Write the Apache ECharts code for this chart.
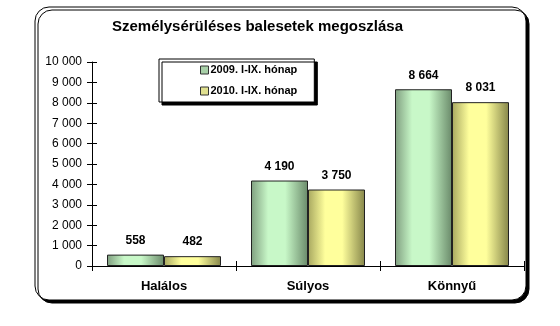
<!DOCTYPE html>
<html><head><meta charset="utf-8">
<script src="https://cdn.jsdelivr.net/npm/echarts@6/dist/echarts.min.js"></script>
<style>html,body{margin:0;padding:0;background:#fff}#c{width:560px;height:326px}</style>
</head><body><div id="c"></div>
<script>
const categories = ['Halálos', 'Súlyos', 'Könnyű'];
const series2009 = [558, 4190, 8664];
const series2010 = [482, 3750, 8031];
const seriesNames = ['2009. I-IX. hónap', '2010. I-IX. hónap'];
const chartTitle = 'Személysérüléses balesetek megoszlása';

const fmt = v => String(v).replace(/\B(?=(\d{3})+(?!\d))/g, ' ');
const FONT = 'Liberation Sans, Arial, sans-serif';

function grad(dark, light, dark2) {
  return new echarts.graphic.LinearGradient(0, 0, 1, 0, [
    {offset: 0, color: dark}, {offset: 0.3, color: light},
    {offset: 0.6, color: light}, {offset: 1, color: dark2}]);
}

const chart = echarts.init(document.getElementById('c'), null, {renderer: 'canvas'});
const labelCfg = {show: true, position: 'top', distance: 8, fontFamily: FONT, fontWeight: 'bold',
  fontSize: 12, color: '#000', formatter: p => fmt(p.value)};
chart.setOption({
  animation: false,
  backgroundColor: '#fff',
  graphic: [{
    type: 'rect', z: -10, shape: {x: 35, y: 7, width: 491, height: 293, r: 14},
    style: {fill: '#fff', stroke: '#000', lineWidth: 1, shadowColor: '#000', shadowOffsetX: 3, shadowOffsetY: 3, shadowBlur: 0.01}
  }],
  title: {text: chartTitle, left: 107, top: 14,
    textStyle: {fontFamily: FONT, fontWeight: 'bold', fontSize: 15, color: '#000'}},
  legend: {
    orient: 'vertical', left: 159, top: 59, itemWidth: 8, itemHeight: 8, itemGap: 7,
    padding: [4, 17, 4, 41], backgroundColor: '#fff', borderColor: '#000', borderWidth: 1,
    shadowColor: '#000', shadowOffsetX: 3, shadowOffsetY: 3, shadowBlur: 0.01,
    icon: 'rect',
    textStyle: {fontFamily: FONT, fontWeight: 'bold', fontSize: 11, color: '#000', lineHeight: 14, padding: [0, 0, 0, -3]},
    data: [
      {name: seriesNames[0], itemStyle: {color: '#a8d0a8', borderColor: '#333', borderWidth: 1}},
      {name: seriesNames[1], itemStyle: {color: '#e0e090', borderColor: '#333', borderWidth: 1}}
    ]
  },
  grid: {left: 92, right: 36, top: 62, bottom: 60},
  xAxis: [{
    type: 'category', data: categories,
    axisLine: {lineStyle: {color: '#000', width: 1}},
    axisTick: {show: true, length: 5, interval: 0, lineStyle: {color: '#000'}},
    axisLabel: {fontFamily: FONT, fontWeight: 'bold', fontSize: 13, color: '#000', margin: 14}
  }, {
    type: 'category', data: categories, position: 'bottom',
    axisLine: {show: false}, axisLabel: {show: false},
    axisTick: {show: true, inside: true, length: 5, interval: 0, lineStyle: {color: '#000'}}
  }],
  yAxis: [{
    type: 'value', min: 0, max: 10000, interval: 1000,
    axisLine: {show: true, lineStyle: {color: '#000'}},
    axisTick: {show: true, length: 5, lineStyle: {color: '#000'}},
    splitLine: {show: false},
    axisLabel: {fontFamily: FONT, fontSize: 12, color: '#000', margin: 10, formatter: v => fmt(v)}
  }, {
    type: 'value', min: 0, max: 10000, interval: 1000, position: 'left',
    axisLine: {show: false}, splitLine: {show: false}, axisLabel: {show: false},
    axisTick: {show: true, inside: true, length: 5, lineStyle: {color: '#000'}}
  }],
  series: [{
    name: seriesNames[0], type: 'bar', data: series2009, barWidth: 57, barGap: '0%',
    itemStyle: {color: grad('#7f9e7f', '#c8f8c8', '#6a8a6a'), borderColor: '#222', borderWidth: 1},
    label: labelCfg
  }, {
    name: seriesNames[1], type: 'bar', data: series2010, barWidth: 57, barGap: '0%',
    itemStyle: {color: grad('#a8a860', '#ffff9c', '#86864a'), borderColor: '#222', borderWidth: 1},
    label: labelCfg
  }]
});
</script></body></html>
